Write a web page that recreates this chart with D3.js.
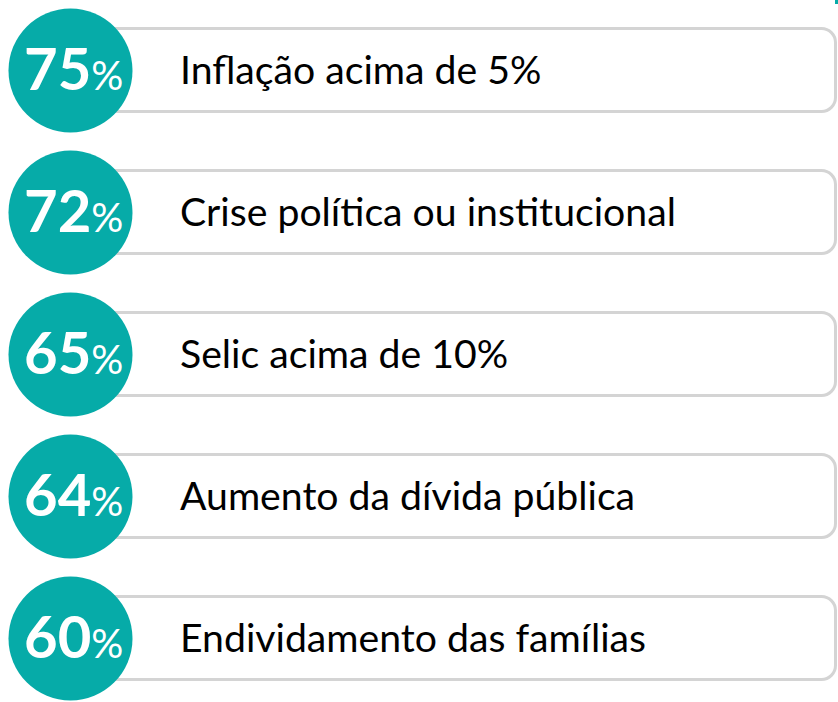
<!DOCTYPE html>
<html>
<head>
<meta charset="utf-8">
<script src="https://cdn.jsdelivr.net/npm/d3@7"></script>
<style>
  html, body { margin: 0; padding: 0; background: #fff; }
  svg { display: block; }
</style>
</head>
<body>
<svg id="chart" width="838" height="702"></svg>
<script>
// Survey results: share of respondents citing each risk
const labels = [
  "Inflação acima de 5%",
  "Crise política ou institucional",
  "Selic acima de 10%",
  "Aumento da dívida pública",
  "Endividamento das famílias"
];
const values = [75, 72, 65, 64, 60];

const TEAL = "#06aba8";
const GREY = "#d4d4d4";
const R = 62;          // circle radius
const CX = 70.5;       // circle centre x

const svg = d3.select("#chart");

// One band per row; band centre = row centre
const y = d3.scaleBand()
  .domain(labels)
  .range([-1.5, 708.5])
  .padding(0);

const rows = labels.map((l, i) => ({ label: l, value: values[i] }));

const row = svg.selectAll(".row")
  .data(rows)
  .join("g")
  .attr("class", "row")
  .attr("transform", d => `translate(0,${y(d.label) + y.bandwidth() / 2})`);

// Rounded label box, partly hidden behind the circle
row.append("rect")
  .attr("x", 100).attr("y", -41)
  .attr("width", 735.5).attr("height", 83)
  .attr("rx", 14).attr("ry", 14)
  .attr("fill", "#fff")
  .attr("stroke", GREY)
  .attr("stroke-width", 3);

row.append("circle")
  .attr("cx", CX).attr("cy", 1)
  .attr("r", R)
  .attr("fill", TEAL);

// Big number + smaller percent sign
const num = row.append("text")
  .attr("x", 24).attr("y", 20)
  .attr("fill", "#fff")
  .attr("font-family", "Lato, 'Open Sans', sans-serif");

num.append("tspan")
  .attr("font-size", 58)
  .attr("font-weight", 700)
  .text(d => d.value);

num.append("tspan")
  .attr("font-size", 40)
  .attr("font-weight", 400)
  .text("%");

row.append("text")
  .attr("x", 180).attr("y", 14)
  .attr("fill", "#000")
  .attr("font-family", "Lato, 'Open Sans', sans-serif")
  .attr("font-size", 39.2)
  .text(d => d.label);

// small teal fragment clipped at the top-right corner
svg.append("rect")
  .attr("x", 835).attr("y", 0)
  .attr("width", 3).attr("height", 4)
  .attr("fill", TEAL);
</script>
</body>
</html>
